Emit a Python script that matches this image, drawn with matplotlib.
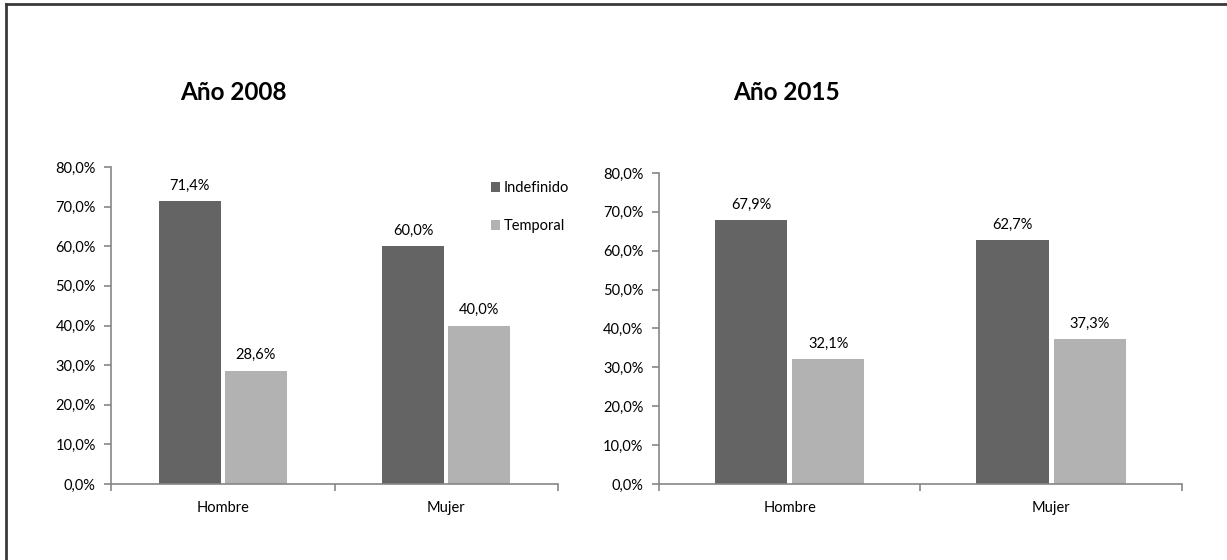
import numpy as np
import matplotlib.pyplot as plt
from matplotlib.lines import Line2D

# Data
categories = ["Hombre", "Mujer"]
series_names = ["Indefinido", "Temporal"]
titles = ["Año 2008", "Año 2015"]
indef_2008 = [71.4, 60.0]
temp_2008 = [28.6, 40.0]
indef_2015 = [67.9, 62.7]
temp_2015 = [32.1, 37.3]
y_ticks = [0, 10, 20, 30, 40, 50, 60, 70, 80]

dark = "#646464"
light = "#b2b2b2"
axis_col = "#868686"

plt.rcParams['font.family'] = ['Lato', 'DejaVu Sans']

fig = plt.figure(figsize=(12.27, 5.6), dpi=100)

# outer frame (top and left only, like the source)
fig.add_artist(Line2D([0.0049, 0.0049], [0, 0.993], transform=fig.transFigure, color="#3a3a3a", lw=2))
fig.add_artist(Line2D([0.0049, 1.0], [0.993, 0.993], transform=fig.transFigure, color="#3a3a3a", lw=2))

ax1 = fig.add_axes([0.0905, 0.1357, 0.3643, 0.5661])
ax2 = fig.add_axes([0.537, 0.1357, 0.4263, 0.5554])


def fmt(v):
    return f"{v:.1f}".replace(".", ",") + "%"


def draw(ax, indef, temp, title, title_x):
    x = np.arange(len(categories))
    w = 0.277
    off = 0.1475
    b1 = ax.bar(x - off, indef, w, color=dark, label=series_names[0])
    b2 = ax.bar(x + off, temp, w, color=light, label=series_names[1])
    for bars, vals in [(b1, indef), (b2, temp)]:
        for r, v in zip(bars, vals):
            ax.annotate(fmt(v), (r.get_x() + r.get_width() / 2, v), xytext=(0, 6),
                        textcoords="offset points", ha="center", va="bottom", fontsize=10.5)
    ax.set_xlim(-0.5, len(categories) - 0.5)
    ax.set_ylim(0, 80)
    ax.set_yticks(y_ticks)
    ax.set_yticklabels([fmt(t) for t in y_ticks], fontsize=10.5)
    ax.set_xticks(np.arange(-0.5, len(categories)))
    ax.set_xticklabels([])
    ax.set_xticks(x, minor=True)
    ax.set_xticklabels(categories, minor=True, fontsize=10.5)
    ax.tick_params(axis="x", which="minor", length=0, pad=12)
    ax.tick_params(axis="x", which="major", length=5, color=axis_col, width=1.2)
    ax.tick_params(axis="y", length=5, color=axis_col, width=1.2, pad=6)
    for s in ["top", "right"]:
        ax.spines[s].set_visible(False)
    for s in ["left", "bottom"]:
        ax.spines[s].set_color(axis_col)
        ax.spines[s].set_linewidth(1.2)
    fig.text(title_x, 0.8214, title, ha="center", va="baseline", fontsize=17.5, fontweight="bold")


draw(ax1, indef_2008, temp_2008, titles[0], 0.190)
draw(ax2, indef_2015, temp_2015, titles[1], 0.6406)

ax1.legend(loc="upper left", bbox_to_anchor=(0.394, 0.689), bbox_transform=fig.transFigure,
           frameon=False, fontsize=10.5, handlelength=0.65, handleheight=0.65,
           handletextpad=0.25, labelspacing=1.6, borderpad=0)

fig.savefig("out.png", dpi=100, facecolor="white")
